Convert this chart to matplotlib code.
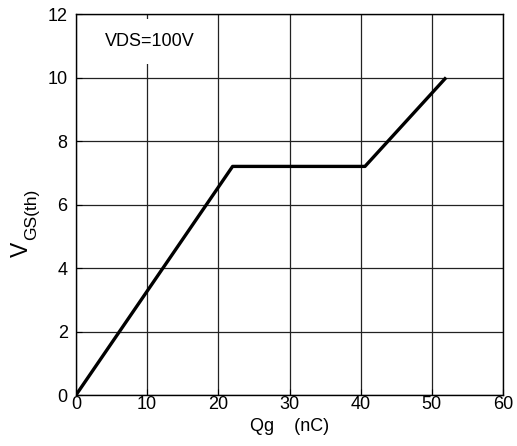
import numpy as np
import matplotlib.pyplot as plt

plt.rcParams['font.family'] = ['Liberation Sans', 'DejaVu Sans']

### Data ###
qg = [0, 22, 40.6, 52]        # gate charge (nC)
vgs = [0, 7.2, 7.2, 10]       # gate voltage (V)
x_ticks = [0, 10, 20, 30, 40, 50, 60]
y_ticks = [0, 2, 4, 6, 8, 10, 12]

W, H = 517, 446
fig = plt.figure(figsize=(W / 100, H / 100), dpi=100)
ax = fig.add_axes([0.147, 0.1143, 0.826, 0.8543])

ax.plot(qg, vgs, color='black', linewidth=2.4, zorder=3, solid_capstyle='butt')

ax.set_xlim(0, 60)
ax.set_ylim(0, 12)
ax.set_xticks(x_ticks)
ax.set_yticks(y_ticks)
ax.grid(True, color='#222222', linewidth=0.9)
ax.set_axisbelow(True)
ax.tick_params(direction='in', length=4, labelsize=13)
ax.tick_params(axis='x', pad=1)
ax.tick_params(axis='y', pad=6)
for s in ax.spines.values():
    s.set_linewidth(1.0)

ax.text(10.3, 11.13, 'VDS=100V', fontsize=13, ha='center', va='center', zorder=2,
        bbox=dict(facecolor='white', edgecolor='none', pad=10))

ax.set_xlabel('Qg    (nC)', fontsize=13, labelpad=3)

# y label: V with a large subscript, drawn as two rotated pieces
fig.text(28 / W, (H - 257) / H, 'V', fontsize=16.5, rotation=90,
         rotation_mode='anchor', ha='left', va='baseline')
fig.text(36 / W, (H - 240) / H, 'GS(th)', fontsize=12.5, rotation=90,
         rotation_mode='anchor', ha='left', va='baseline')

plt.savefig('out.png', dpi=100)
